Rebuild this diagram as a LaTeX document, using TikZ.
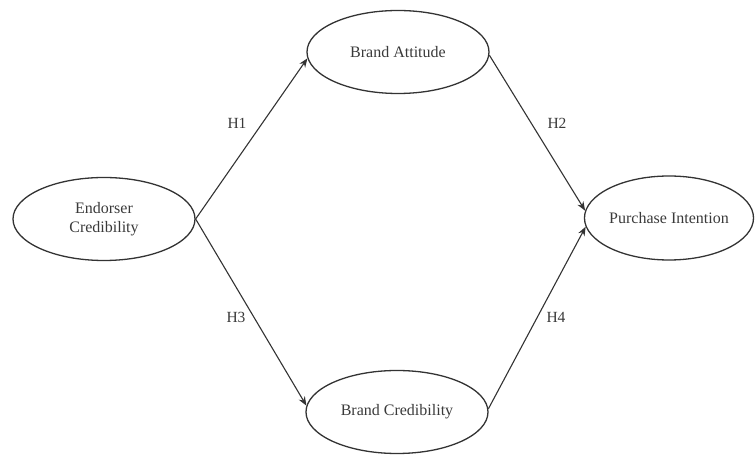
\documentclass[tikz,border=0pt]{standalone}
\usepackage{fontspec}
\setmainfont{Liberation Serif}
\usetikzlibrary{shapes.geometric,arrows.meta}
\definecolor{linecol}{HTML}{333333}
\definecolor{textcol}{HTML}{3A3A3A}
\begin{document}
\begin{tikzpicture}[x=1pt,y=1pt,
  construct/.style={ellipse, draw=linecol, line width=1.3pt, inner sep=0pt,
    minimum width=182pt, minimum height=83pt, text=textcol,
    font=\fontsize{16}{18.5}\selectfont, align=center},
  path/.style={draw=linecol, line width=1.1pt, -{Stealth[length=9pt,width=7pt]}},
  hyp/.style={text=textcol, font=\fontsize{15.5}{18}\selectfont}]
\useasboundingbox (0,0) rectangle (755,455);
\node[construct] (EC) at (104,236) {Endorser\\Credibility};
\node[construct] (BA) at (398,403) {Brand Attitude};
\node[construct] (BC) at (397,43) {Brand Credibility};
\node[construct, minimum width=168pt, minimum height=84pt] (PI) at (669,237) {Purchase Intention};
\draw[path] (EC.east) -- (BA.184);
\draw[path] (EC.east) -- (BC.176);
\draw[path] (BA.358) -- (PI.175);
\draw[path] (BC.2) -- (PI.186);
\node[hyp] (h1) at (237,332) {H1};
\node[hyp] (h2) at (557,332) {H2};
\node[hyp] (h3) at (236,138) {H3};
\node[hyp] (h4) at (556,138) {H4};
\end{tikzpicture}
\end{document}
